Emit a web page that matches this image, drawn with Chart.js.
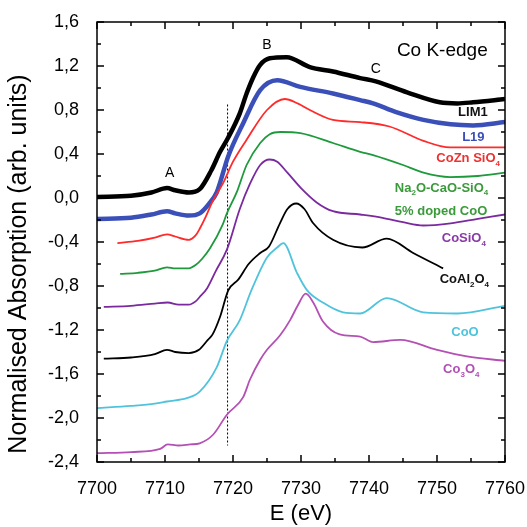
<!DOCTYPE html>
<html>
<head>
<meta charset="utf-8">
<script src="https://cdn.jsdelivr.net/npm/chart.js@4.4.0/dist/chart.umd.min.js"></script>
<style>
  html, body { margin: 0; padding: 0; background: #fff; }
  #wrap { width: 527px; height: 527px; }
</style>
</head>
<body>
<div id="wrap"><canvas id="xanes"></canvas></div>
<script>
// tick values
var xTicks = [7700, 7710, 7720, 7730, 7740, 7750, 7760];
var yTicks = [-2.4, -2.0, -1.6, -1.2, -0.8, -0.4, 0.0, 0.4, 0.8, 1.2, 1.6];
var yTitle = 'Normalised Absorption (arb. units)';

// LIM1 (black, thick)
var lim1E = [7700, 7705, 7708, 7710.3, 7711.5, 7713.5, 7715.1, 7716.8, 7718.1, 7719.3, 7721, 7722, 7723, 7724, 7725.4, 7727.9, 7731.3, 7734.7, 7738.7, 7741, 7745.6, 7750.4, 7753, 7755.3, 7760];
var lim1A = [0.01, 0.02, 0.05, 0.09, 0.07, 0.05, 0.08, 0.25, 0.42, 0.55, 0.77, 0.95, 1.10, 1.21, 1.27, 1.28, 1.19, 1.15, 1.09, 1.06, 0.96, 0.87, 0.86, 0.87, 0.90];

// L19 (blue, thick)
var l19E = [7700, 7705, 7708, 7710.3, 7711.5, 7713.5, 7715.1, 7716.5, 7717.6, 7719.3, 7721.5, 7724, 7726.5, 7729.9, 7734.7, 7738.7, 7740.6, 7744, 7748, 7752, 7755.3, 7760];
var l19A = [-0.19, -0.18, -0.15, -0.12, -0.14, -0.16, -0.14, -0.05, 0.05, 0.38, 0.68, 0.98, 1.07, 1.01, 0.95, 0.89, 0.86, 0.78, 0.71, 0.67, 0.66, 0.69];

// CoZnSiO4 (red)
var coznE = [7703, 7706, 7708.5, 7710.3, 7711.5, 7713.5, 7714.5, 7715.1, 7716, 7717, 7718.5, 7720, 7722, 7725, 7727.6, 7729.5, 7731.3, 7734.7, 7738.7, 7743, 7748, 7751.9, 7760];
var coznA = [-0.41, -0.39, -0.36, -0.33, -0.35, -0.38, -0.34, -0.28, -0.17, -0.03, 0.13, 0.33, 0.53, 0.80, 0.90, 0.86, 0.80, 0.71, 0.69, 0.65, 0.52, 0.46, 0.46];

// Na2O-CaO-SiO4 5% doped CoO (green)
var glassE = [7703.4, 7706, 7708.5, 7710.3, 7711.5, 7713.5, 7714.5, 7715.5, 7716.6, 7718.5, 7719.1, 7720.6, 7722, 7724, 7725.4, 7727, 7729.9, 7734.7, 7738.7, 7740.6, 7745, 7748, 7751.9, 7756, 7760];
var glassA = [-0.69, -0.68, -0.66, -0.63, -0.64, -0.64, -0.61, -0.55, -0.46, -0.24, -0.14, 0.06, 0.30, 0.50, 0.58, 0.60, 0.59, 0.50, 0.42, 0.39, 0.30, 0.23, 0.19, 0.20, 0.23];

// CoSiO4 (purple)
var cosiE = [7701, 7705, 7708.5, 7710.4, 7712, 7713.5, 7714.5, 7715.1, 7716.2, 7717.5, 7719.1, 7721, 7722.5, 7724, 7725.4, 7726.5, 7728, 7730, 7732.3, 7734.7, 7738.7, 7742, 7745, 7748, 7752, 7756, 7760];
var cosiA = [-0.99, -0.98, -0.96, -0.95, -0.97, -0.97, -0.94, -0.90, -0.82, -0.66, -0.47, -0.10, 0.13, 0.30, 0.35, 0.33, 0.23, 0.09, -0.04, -0.12, -0.15, -0.18, -0.22, -0.25, -0.23, -0.19, -0.15];

// CoAl2O4 (black, thin)
var coalE = [7701, 7705, 7708.5, 7710.3, 7711.5, 7713.5, 7715, 7716.3, 7717, 7718.1, 7719.3, 7720.8, 7722.3, 7724, 7725.3, 7726.9, 7728, 7729.3, 7730.5, 7731.8, 7734.7, 7739, 7742.6, 7746.5, 7750.9];
var coalA = [-1.46, -1.45, -1.42, -1.38, -1.40, -1.41, -1.38, -1.29, -1.24, -1.08, -0.84, -0.74, -0.60, -0.50, -0.44, -0.23, -0.10, -0.05, -0.10, -0.23, -0.38, -0.45, -0.37, -0.50, -0.64];

// CoO (cyan)
var cooE = [7700, 7705, 7708.5, 7710.3, 7713.2, 7715.1, 7717.6, 7719.1, 7721, 7722.7, 7725, 7726.5, 7727.4, 7729.4, 7730.9, 7733.2, 7736.2, 7738.7, 7742.6, 7748, 7753, 7760];
var cooA = [-1.91, -1.89, -1.87, -1.85, -1.82, -1.76, -1.54, -1.30, -1.11, -0.84, -0.54, -0.45, -0.41, -0.68, -0.84, -0.95, -1.04, -1.05, -0.91, -1.04, -1.05, -0.98];

// Co3O4 (magenta)
var co3E = [7700, 7705, 7709.3, 7710.4, 7712, 7713.7, 7715.1, 7717.1, 7719.1, 7721.5, 7722.5, 7724, 7725, 7726.9, 7728.4, 7729.5, 7730.7, 7731.8, 7733.2, 7735.7, 7738.7, 7740.6, 7744.6, 7750, 7754.4, 7760];
var co3A = [-2.32, -2.31, -2.28, -2.24, -2.25, -2.24, -2.23, -2.15, -1.97, -1.81, -1.65, -1.47, -1.38, -1.25, -1.11, -0.98, -0.87, -0.95, -1.12, -1.24, -1.26, -1.31, -1.29, -1.38, -1.44, -1.48];

// dashed marker line
var edgeE = [7719.2, 7719.2];
var edgeA = [0.85, -2.25];

function pts(xs, ys) {
    var out = [];
    for (var i = 0; i < xs.length; i++) out.push({x: xs[i], y: ys[i]});
    return out;
}

function series(label, xs, ys, color, width) {
    return {
        label: label,
        data: pts(xs, ys),
        borderColor: color,
        backgroundColor: color,
        borderWidth: width,
        pointRadius: 0,
        showLine: true,
        cubicInterpolationMode: 'monotone'
    };
}

// text labels: [text, colour, E, A, font, align]  ("_" = next char subscript)
var notes = [
    ['A', '#000', 7710.7, 0.23, '14px', 'center'],
    ['B', '#000', 7725.0, 1.39, '14px', 'center'],
    ['C', '#000', 7741.0, 1.17, '14px', 'center'],
    ['Co K-edge', '#000', 7744.1, 1.34, '19px', 'left'],
    ['LIM1', '#111', 7753.1, 0.78, 'bold 13px', 'left'],
    ['L19', '#3b4fb8', 7753.7, 0.55, 'bold 13px', 'left'],
    ['CoZn SiO_4', '#f03030', 7749.9, 0.36, 'bold 13px', 'left'],
    ['Na_2O-CaO-SiO_4', '#3a9a3a', 7743.8, 0.09, 'bold 13px', 'left'],
    ['5% doped CoO', '#3a9a3a', 7743.8, -0.12, 'bold 13px', 'left'],
    ['CoSiO_4', '#8a3aa8', 7750.7, -0.37, 'bold 13px', 'left'],
    ['CoAl_2O_4', '#111', 7750.4, -0.74, 'bold 13px', 'left'],
    ['CoO', '#4ec3dc', 7752.1, -1.22, 'bold 13px', 'left'],
    ['Co_3O_4', '#b050b4', 7750.9, -1.56, 'bold 13px', 'left']
];

var FONT = '"Liberation Sans", Arial, sans-serif';

var notesPlugin = {
    id: 'notes',
    afterDatasetsDraw: function(chart) {
        var ctx = chart.ctx, a = chart.chartArea;
        var sx = chart.scales.x, sy = chart.scales.y;
        ctx.save();
        // frame
        ctx.strokeStyle = '#000';
        ctx.lineWidth = 1.5;
        ctx.strokeRect(a.left, a.top, a.right - a.left, a.bottom - a.top);
        // inward ticks, all four sides
        ctx.beginPath();
        for (var e = 7700; e <= 7760; e += 5) {
            var px = sx.getPixelForValue(e);
            var len = (e % 10 === 0) ? 7 : 4;
            ctx.moveTo(px, a.bottom); ctx.lineTo(px, a.bottom - len);
            ctx.moveTo(px, a.top); ctx.lineTo(px, a.top + len);
        }
        for (var i = 0; i <= 20; i++) {
            var v = -2.4 + i * 0.2;
            var py = sy.getPixelForValue(v);
            var l = (i % 2 === 0) ? 7 : 4;
            ctx.moveTo(a.left, py); ctx.lineTo(a.left + l, py);
            ctx.moveTo(a.right, py); ctx.lineTo(a.right - l, py);
        }
        ctx.stroke();

        // y axis title (sits a bit below the plot centre, as in the original)
        ctx.save();
        ctx.translate(19, 264);
        ctx.rotate(-Math.PI / 2);
        ctx.textAlign = 'center';
        ctx.textBaseline = 'middle';
        ctx.fillStyle = '#000';
        ctx.font = '25px ' + FONT;
        ctx.fillText(yTitle, 0, 0);
        ctx.restore();

        // labels
        ctx.textBaseline = 'middle';
        notes.forEach(function(n) {
            var size = parseFloat(n[4].replace(/[^0-9.]/g, ''));
            var weight = n[4].indexOf('bold') >= 0 ? 'bold ' : '';
            var x = sx.getPixelForValue(n[2]);
            var y = sy.getPixelForValue(n[3]);
            var parts = [], txt = n[0];
            for (var k = 0; k < txt.length; k++) {
                if (txt[k] === '_') { parts.push([txt[k + 1], true]); k++; }
                else parts.push([txt[k], false]);
            }
            var big = weight + size + 'px ' + FONT;
            var small = weight + Math.round(size * 0.62) + 'px ' + FONT;
            var w = 0;
            parts.forEach(function(p) { ctx.font = p[1] ? small : big; w += ctx.measureText(p[0]).width; });
            if (n[5] === 'center') x -= w / 2;
            ctx.fillStyle = n[1];
            parts.forEach(function(p) {
                ctx.font = p[1] ? small : big;
                ctx.fillText(p[0], x, p[1] ? y + size * 0.38 : y);
                x += ctx.measureText(p[0]).width;
            });
        });
        ctx.restore();
    }
};

var ctx = document.getElementById('xanes').getContext('2d');
var edge = series('edge', edgeE, edgeA, '#000', 1);
edge.borderDash = [2, 2];
edge.cubicInterpolationMode = 'default';

var myChart = new Chart(ctx, {
    type: 'scatter',
    data: {
        datasets: [
            series('Co3O4', co3E, co3A, '#b450b4', 1.8),
            series('CoO', cooE, cooA, '#50c3dc', 1.8),
            series('CoAl2O4', coalE, coalA, '#000', 1.8),
            series('CoSiO4', cosiE, cosiA, '#7a2a9e', 1.8),
            series('glass', glassE, glassA, '#1e9a3c', 1.8),
            series('CoZnSiO4', coznE, coznA, '#ff2a2a', 1.8),
            series('L19', l19E, l19A, '#3b4fb8', 4.5),
            series('LIM1', lim1E, lim1A, '#000', 4.5),
            edge
        ]
    },
    options: {
        responsive: true,
        maintainAspectRatio: false,
        animation: false,
        layout: { padding: { left: 0, right: 22, top: 22, bottom: 0 } },
        plugins: { legend: { display: false }, tooltip: { enabled: false } },
        scales: {
            x: {
                type: 'linear',
                min: 7700, max: 7760,
                grid: { display: false },
                border: { display: false },
                afterBuildTicks: function(s) { s.ticks = xTicks.map(function(v) { return {value: v}; }); },
                afterFit: function(s) { s.height = 65; s.paddingLeft = 0; s.paddingRight = 0; },
                ticks: {
                    color: '#000', padding: 8, maxRotation: 0,
                    font: { family: FONT, size: 18 },
                    callback: function(v) { return String(v); }
                },
                title: { display: true, text: 'E (eV)', color: '#000', padding: { top: 3, bottom: 0 }, font: { family: FONT, size: 22 } }
            },
            y: {
                min: -2.4, max: 1.6,
                grid: { display: false },
                border: { display: false },
                afterBuildTicks: function(s) { s.ticks = yTicks.map(function(v) { return {value: v}; }); },
                afterFit: function(s) { s.width = 97; s.paddingTop = 0; s.paddingBottom = 0; },
                ticks: {
                    color: '#000', padding: 10,
                    font: { family: FONT, size: 18 },
                    callback: function(v) { return v.toFixed(1).replace('.', ','); }
                },
                title: { display: false }
            }
        }
    },
    plugins: [notesPlugin]
});
</script>
</body>
</html>
